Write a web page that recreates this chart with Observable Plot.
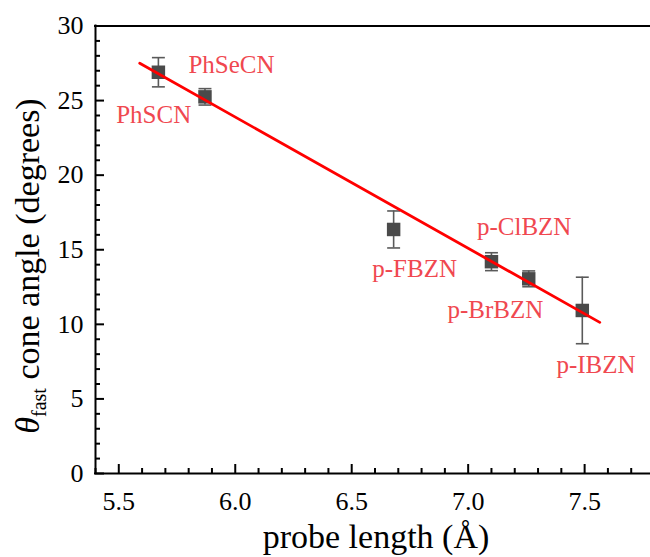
<!DOCTYPE html>
<html><head><meta charset="utf-8">
<script src="https://cdn.jsdelivr.net/npm/d3@7"></script>
<script src="https://cdn.jsdelivr.net/npm/@observablehq/plot@0.6"></script>
<style>body{margin:0;background:#fff} svg{display:block} svg text{font-family:"Liberation Serif",serif}</style>
</head><body><div id="chart"></div>
<script>
// ---- data ----
const probes = ["PhSCN", "PhSeCN", "p-FBZN", "p-ClBZN", "p-BrBZN", "p-IBZN"];
const probeLength = [5.67, 5.87, 6.68, 7.10, 7.26, 7.49];
const coneAngle = [26.9, 25.25, 16.36, 14.2, 13.05, 10.93];
const coneAngleErr = [0.98, 0.55, 1.24, 0.6, 0.53, 2.23];
const fitLength = [5.59, 7.565];
const fitAngle = [27.5, 10.13];
const xMajorTicks = [5.5, 6.0, 6.5, 7.0, 7.5];
const xMinorTicks = [5.4, 5.6, 5.7, 5.8, 5.9, 6.1, 6.2, 6.3, 6.4, 6.6, 6.7, 6.8, 6.9, 7.1, 7.2, 7.3, 7.4, 7.6, 7.7, 7.8];
const yMajorTicks = [0, 5, 10, 15, 20, 25, 30];
const yMinorTicks = [1, 2, 3, 4, 6, 7, 8, 9, 11, 12, 13, 14, 16, 17, 18, 19, 21, 22, 23, 24, 26, 27, 28, 29];
const xTitle = "probe length (Å)";
const yTitleSymbol = "θ";
const yTitleSub = "fast";
const yTitleRest = " cone angle (degrees)";

// ---- tables built from the arrays ----
const points = probes.map((p, i) => ({
  probe: p, x: probeLength[i], y: coneAngle[i],
  lo: coneAngle[i] - coneAngleErr[i], hi: coneAngle[i] + coneAngleErr[i]
}));
const fit = fitLength.map((x, i) => ({x, y: fitAngle[i]}));

// label offsets (pixels) relative to each point
const labelOffsets = [[-4.7, 43], [26.5, -32.3], [21, 40], [32.7, -34.3], [-33.3, 31.4], [13.7, 54.7]];

const capSymbol = {
  draw(context, size) {
    const w = Math.sqrt(size) / 2;
    context.moveTo(-w, 0);
    context.lineTo(w, 0);
  }
};

const FONT = "Liberation Serif, serif";
const labelColor = "#f04850";
const errColor = "#5a5a5a";

const chart = Plot.plot({
  width: 650,
  height: 557,
  marginLeft: 95,
  marginRight: 0,
  marginTop: 25.5,
  marginBottom: 84,
  style: {fontFamily: FONT, fontSize: "26px", color: "#000", background: "#fff"},
  x: {domain: [5.4, 7.8], range: [95, 654]},
  y: {domain: [0, 30]},
  marks: [
    Plot.ruleX(points, {x: "x", y1: "lo", y2: "hi", stroke: errColor, strokeWidth: 1.6}),
    Plot.dot(points, {x: "x", y: "lo", symbol: capSymbol, r: 7.3, stroke: errColor, strokeWidth: 1.6}),
    Plot.dot(points, {x: "x", y: "hi", symbol: capSymbol, r: 7.3, stroke: errColor, strokeWidth: 1.6}),
    Plot.dot(points, {x: "x", y: "y", symbol: "square", r: 7.6, fill: "#4a4a4a", stroke: null}),
    Plot.line(fit, {x: "x", y: "y", stroke: "#ff0000", strokeWidth: 2.8}),
    Plot.axisX(xMinorTicks, {tickSize: -5, tickFormat: () => "", label: null, strokeWidth: 2}),
    Plot.axisX(xMajorTicks, {tickSize: -9, tickPadding: 26.7, tickFormat: d3.format(".1f"), fontSize: 26, fontFamily: FONT, label: null, strokeWidth: 2}),
    Plot.axisY(yMinorTicks, {tickSize: -5, tickFormat: () => "", label: null, strokeWidth: 2}),
    Plot.axisY(yMajorTicks, {tickSize: -9, tickPadding: 21, fontSize: 26, fontFamily: FONT, label: null, strokeWidth: 2}),
    Plot.ruleY([0, 30], {stroke: "#000", strokeWidth: 2, strokeLinecap: "square"}),
    Plot.ruleX([5.4], {stroke: "#000", strokeWidth: 2, strokeLinecap: "square"}),
    ...points.map((d, i) => Plot.text([d], {
      x: "x", y: "y", text: "probe", dx: labelOffsets[i][0], dy: labelOffsets[i][1],
      fill: labelColor, fontSize: 25, fontFamily: FONT, textAnchor: "middle", lineAnchor: "middle"
    })),
    Plot.text([xTitle], {frameAnchor: "bottom", dy: 74, dx: 3, fontSize: 34, fontFamily: FONT, fill: "#000"})
  ]
});

// y-axis title with subscript (real text)
const svg = d3.select(chart);
const yt = svg.append("text")
  .attr("transform", "translate(38.5,266) rotate(-90)")
  .attr("text-anchor", "middle")
  .attr("font-family", FONT)
  .attr("font-size", 34)
  .attr("fill", "#000");
yt.append("tspan").attr("font-style", "italic").text(yTitleSymbol);
yt.append("tspan").attr("font-size", 20).attr("dy", 7).text(yTitleSub);
yt.append("tspan").attr("dy", -7).text(yTitleRest);

document.getElementById("chart").appendChild(chart);
</script>
</body></html>
